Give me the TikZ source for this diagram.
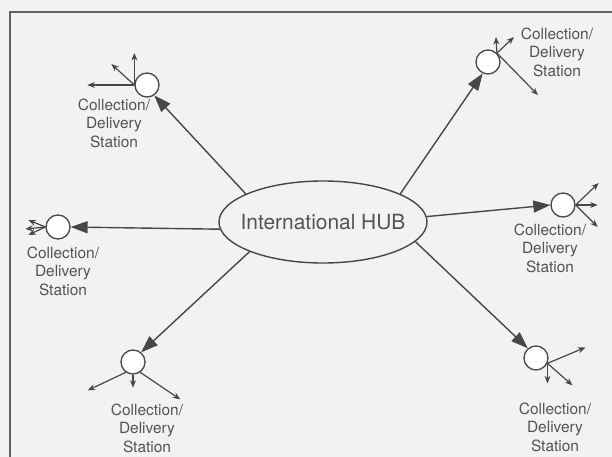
\documentclass[tikz,border=0pt]{standalone}
\usepackage{fontspec}
\setmainfont{TeX Gyre Heros}
\usetikzlibrary{arrows.meta,shapes.geometric}
\definecolor{ink}{HTML}{4A4548}
\definecolor{txt}{HTML}{565154}
\definecolor{paper}{HTML}{F3F2F2}
\begin{document}
\begin{tikzpicture}[x=1bp,y=-1bp,
  station/.style={circle,draw=ink,line width=1.3bp,fill=white,minimum size=24bp,inner sep=0pt},
  lbl/.style={text=txt,font=\fontsize{15.5}{18.5}\selectfont,align=center,inner sep=0pt},
  feed/.style={draw=ink,line width=1.4bp,-{Triangle[length=17bp,width=12bp]}},
  outa/.style={draw=ink,line width=1.2bp,-{Stealth[length=7.5bp,width=6bp]}},
]
\fill[paper] (0,0) rectangle (612,457);
\useasboundingbox (0,0) rectangle (612,457);
\draw[ink!85,line width=1.6bp] (10,460) -- (10,12) -- (615,12);

\node[ellipse,draw=ink,line width=1.4bp,fill=paper,minimum width=208bp,minimum height=82bp,
      inner xsep=-20bp,inner ysep=0pt,text=txt,font=\fontsize{21}{24}\selectfont] (hub) at (323,222) {International HUB};

\node[station] (ul) at (147,85) {};
\node[station] (ur) at (488,62) {};
\node[station] (lt) at (58,227) {};
\node[station] (rt) at (563,205) {};
\node[station] (ll) at (133,362) {};
\node[station] (lr) at (536,358) {};

\node[lbl] (ulL) at (114,123) {Collection/\\Delivery\\Station};
\node[lbl] (urL) at (557,52) {Collection/\\Delivery\\Station};
\node[lbl] (ltL) at (63,271) {Collection/\\Delivery\\Station};
\node[lbl] (rtL) at (550,248) {Collection/\\Delivery\\Station};
\node[lbl] (llL) at (147,428) {Collection/\\Delivery\\Station};
\node[lbl] (lrL) at (555,427) {Collection/\\Delivery\\Station};

\draw[feed] (hub.160) -- (ul.-55);
\draw[feed] (hub.20) -- (ur.-115);
\draw[feed] (hub.184) -- (lt.east);
\draw[feed] (hub.3) -- (rt.west);
\draw[feed] (hub.202) -- (ll.50);
\draw[feed] (hub.-12) -- (lr.130);

\draw[outa] (ul.west) -- ++(0,-32);
\draw[outa] (ul.west) -- ++(-23,-21);
\draw[outa] (ul.west) -- ++(-47,0);

\draw[outa] (ur.45) -- ++(-1,-16);
\draw[outa] (ur.45) -- ++(17,-16);
\draw[outa] (ur.45) -- ++(41,42);

\draw[outa] (lt.west) -- ++(-20,2);
\draw[outa] (lt.west) -- ++(-17,-7);
\draw[outa] (lt.west) -- ++(-17,8);

\draw[outa] (rt.east) -- ++(23,-22);
\draw[outa] (rt.east) -- ++(22,0);
\draw[outa] (rt.east) -- ++(22,22);

\draw[outa] (ll.235) -- ++(-38,18);
\draw[outa] (ll.south) -- ++(0,13);
\draw[outa] (ll.305) -- ++(40,27);

\draw[outa] (lr.-25) -- ++(38,-16);
\draw[outa] (lr.-25) -- ++(0,20);
\draw[outa] (lr.-25) -- ++(25,22);
\end{tikzpicture}
\end{document}
